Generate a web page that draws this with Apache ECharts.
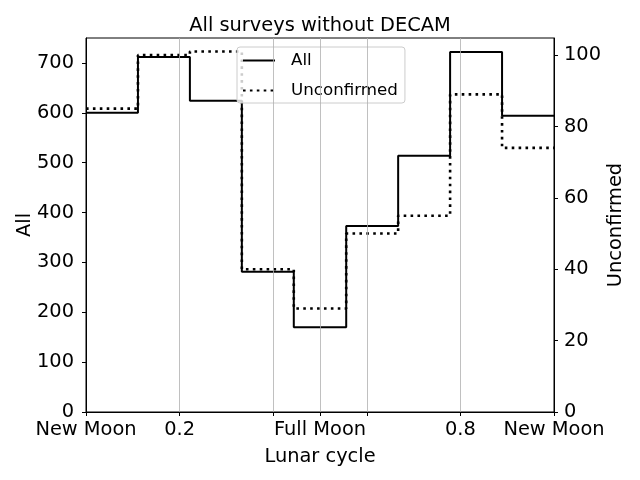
<!DOCTYPE html>
<html>
<head>
<meta charset="utf-8">
<script src="https://cdn.jsdelivr.net/npm/echarts@6/dist/echarts.min.js"></script>
<style>html,body{margin:0;padding:0;background:#fff}#c{width:640px;height:480px}</style>
</head>
<body>
<div id="c"></div>
<script>
// Bin edges of the lunar cycle (9 bins)
const binEdges = [0, 0.111, 0.222, 0.333, 0.444, 0.556, 0.667, 0.778, 0.889, 1];
// Counts per bin
const allCounts = [600, 712, 624, 281, 170, 373, 514, 722, 594];
const unconfirmedCounts = [85, 100, 101, 40, 29, 50, 55, 89, 74];
// Axis ticks
const xTickValues = [0, 0.2, 0.4, 0.5, 0.6, 0.8, 1];
const xLabelValues = [0, 0.2, 0.5, 0.8, 1];
const xLabelText = {0: 'New Moon', 0.2: '0.2', 0.5: 'Full Moon', 0.8: '0.8', 1: 'New Moon'};
const xGridValues = [0.2, 0.4, 0.5, 0.6, 0.8];
const leftTicks = [0, 100, 200, 300, 400, 500, 600, 700];
const rightTicks = [0, 20, 40, 60, 80, 100];

function stepData(vals) {
  const d = binEdges.slice(0, vals.length).map((x, i) => [x, vals[i]]);
  d.push([binEdges[vals.length], vals[vals.length - 1]]);
  return d;
}

const FONT = 'DejaVu Sans';
const FS = 19.4;
const chart = echarts.init(document.getElementById('c'), null, {renderer: 'canvas'});
chart.setOption({
  animation: false,
  backgroundColor: '#fff',
  textStyle: {fontFamily: FONT},
  title: {
    text: 'All surveys without DECAM', left: 'center', top: 11,
    textStyle: {fontFamily: FONT, fontSize: FS, fontWeight: 'normal', color: '#000'}
  },
  grid: {left: 86, right: 86, top: 38, bottom: 68, show: true, borderColor: '#000', borderWidth: 1, backgroundColor: 'transparent'},
  legend: {
    left: 237, top: 47, orient: 'vertical',
    data: ['All', 'Unconfirmed'],
    itemWidth: 32, itemHeight: 12, itemGap: 13,
    padding: [5, 7, 4, 5],
    itemStyle: {opacity: 0},
    backgroundColor: 'rgba(255,255,255,0.8)', borderColor: '#ccc', borderWidth: 1, borderRadius: 3,
    textStyle: {fontFamily: FONT, fontSize: 16.7, color: '#000', padding: [0, 0, 0, 11]}
  },
  xAxis: {
    type: 'value', min: 0, max: 1,
    name: 'Lunar cycle', nameLocation: 'middle', nameGap: 35,
    nameTextStyle: {fontFamily: FONT, fontSize: FS, color: '#000'},
    axisLine: {show: true, lineStyle: {color: '#000', width: 1}},
    axisTick: {show: true, length: 4, customValues: xTickValues, lineStyle: {color: '#000'}},
    axisLabel: {
      customValues: xLabelValues, margin: 8, fontSize: FS, fontFamily: FONT, color: '#000',
      formatter: v => xLabelText[Math.round(v * 10) / 10] || ''
    },
    splitLine: {show: false}
  },
  yAxis: [{
    type: 'value', min: 0, max: 750, position: 'left',
    name: 'All', nameLocation: 'middle', nameGap: 52, nameMoveOverlap: false,
    nameTextStyle: {fontFamily: FONT, fontSize: FS, color: '#000'},
    axisLine: {show: true, lineStyle: {color: '#000'}},
    axisTick: {show: true, length: 4, customValues: leftTicks, lineStyle: {color: '#000'}},
    axisLabel: {customValues: leftTicks, margin: 12, fontSize: FS, fontFamily: FONT, color: '#000'},
    splitLine: {show: false}
  }, {
    type: 'value', min: 0, max: 104.8, position: 'right',
    name: 'Unconfirmed', nameLocation: 'middle', nameGap: 52, nameMoveOverlap: false,
    nameTextStyle: {fontFamily: FONT, fontSize: FS, color: '#000'},
    axisLine: {show: true, lineStyle: {color: '#000'}},
    axisTick: {show: true, length: 4, customValues: rightTicks, lineStyle: {color: '#000'}},
    axisLabel: {customValues: rightTicks, margin: 10, fontSize: FS, fontFamily: FONT, color: '#000'},
    splitLine: {show: false}
  }],
  series: [{
    name: 'grid', type: 'line', data: [], z: 1, silent: true,
    markLine: {
      silent: true, symbol: 'none', label: {show: false},
      lineStyle: {color: '#b0b0b0', width: 0.8, type: 'solid'},
      data: xGridValues.map(v => ({xAxis: v}))
    }
  }, {
    name: 'All', type: 'line', step: 'end', yAxisIndex: 0, z: 3,
    symbol: 'none', showSymbol: false,
    data: stepData(allCounts),
    lineStyle: {color: '#000', width: 2},
    itemStyle: {color: '#000'}
  }, {
    name: 'Unconfirmed', type: 'line', step: 'end', yAxisIndex: 1, z: 3,
    symbol: 'none', showSymbol: false,
    data: stepData(unconfirmedCounts),
    lineStyle: {color: '#000', width: 2.6, type: [2.6, 4.3], cap: 'butt'},
    itemStyle: {color: '#000'}
  }]
});
</script>
</body>
</html>
